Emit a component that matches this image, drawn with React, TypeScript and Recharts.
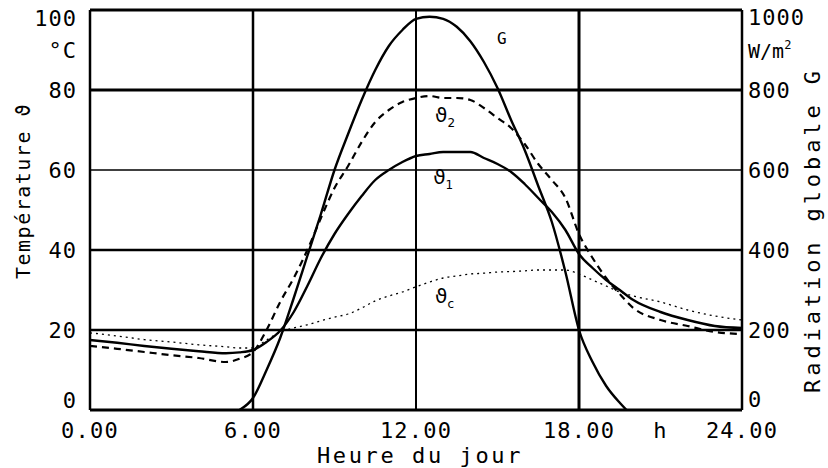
import React from 'react';
import { LineChart, Line, XAxis, YAxis, ReferenceLine, ReferenceDot } from 'recharts';

// Radiation globale G (W/m²)
const gHours = [5.5, 6, 6.5, 7, 7.5, 8, 8.5, 9, 9.5, 10, 10.5, 11, 11.5, 12, 12.5, 13, 13.5, 14, 14.5, 15, 15.5, 16, 16.5, 17, 17.5, 18, 18.5, 19, 19.5, 19.75];
const gValues = [0, 30, 100, 180, 280, 385, 490, 600, 690, 775, 850, 910, 950, 978, 983, 978, 958, 922, 870, 805, 725, 650, 560, 470, 345, 200, 120, 60, 18, 0];

// Temperatures (°C)
const tHours = [0, 1, 2, 3, 4, 5, 5.5, 6, 6.5, 7, 7.5, 8, 8.5, 9, 9.5, 10, 10.5, 11, 11.5, 12, 12.5, 13, 13.5, 14, 14.5, 15, 15.5, 16, 16.5, 17, 17.5, 18, 18.5, 19, 19.5, 20, 21, 22, 23, 24];
const theta1 = [17.5, 16.8, 16, 15.3, 14.7, 14.2, 14.4, 15, 17, 19.8, 24.5, 31, 38, 44, 49, 53.5, 57.5, 60, 62, 63.5, 64, 64.5, 64.5, 64.5, 63, 61.5, 59.5, 56.5, 53, 49.5, 45, 39, 35.5, 32.5, 30, 27.5, 24.5, 22.5, 21, 20.5];
const theta2 = [16, 15.3, 14.5, 13.7, 13, 12, 12.8, 14.5, 20, 27, 33, 40, 48, 55.5, 61, 67, 72, 75, 77, 78, 78.5, 78, 78, 77.5, 75.5, 73, 70.5, 66.5, 61.5, 57.5, 53, 44, 38, 33, 29, 25.5, 22.5, 21, 19.5, 19];
const thetaC = [19.3, 18.5, 17.6, 17, 16.3, 15.8, 15.5, 15.5, 17.5, 19.5, 20.5, 21.3, 22.3, 23.2, 24, 25.5, 27.3, 28.5, 29.5, 30.8, 32, 33, 33.5, 34, 34.2, 34.5, 34.6, 34.8, 35, 35, 35, 34, 32.5, 31, 29.5, 28.5, 27, 25, 23.5, 22.5];

// Ticks
const xTicks = [0, 6, 12, 18, 21, 24];
const xTickLabels = ['0.00', '6.00', '12.00', '18.00', 'h', '24.00'];
const leftTicks = [0, 20, 40, 60, 80, 90, 100];
const leftTickLabels = ['0', '20', '40', '60', '80', '°C', '100'];
const rightTicks = [0, 200, 400, 600, 800, 900, 1000];
const rightTickLabels = ['0', '200', '400', '600', '800', 'W/m²', '1000'];
const gridY = [0, 20, 40, 60, 80, 100];
const gridX = [0, 6, 12, 18, 24];

const gData = gHours.map((h, i) => ({ h, g: gValues[i] }));
const tData = tHours.map((h, i) => ({ h, t1: theta1[i], t2: theta2[i], tc: thetaC[i] }));

const MONO = '"DejaVu Sans Mono", monospace';
const SANS = '"DejaVu Sans", sans-serif';

const gridYWidth: Record<number, number> = { 0: 3, 20: 2.5, 40: 2.5, 60: 1.5, 80: 3, 100: 3 };
const gridXWidth: Record<number, number> = { 0: 2.5, 6: 2.5, 12: 2, 18: 3, 24: 2.5 };

const XTick = (props: any) => {
  const { x, y, payload } = props;
  const i = xTicks.indexOf(payload.value);
  return (
    <text x={x} y={y + 28} textAnchor="middle" fontFamily={MONO} fontSize={22} letterSpacing={1.2} fill="#000">
      {xTickLabels[i]}
    </text>
  );
};

const LeftTick = (props: any) => {
  const { x, y, payload } = props;
  const i = leftTicks.indexOf(payload.value);
  let dy = 8;
  if (payload.value === 100) dy = 16;
  if (payload.value === 0) dy = -2;
  return (
    <text x={x - 13} y={y + dy} textAnchor="end" fontFamily={MONO} fontSize={22} letterSpacing={1} fill="#000">
      {leftTickLabels[i]}
    </text>
  );
};

const RightTick = (props: any) => {
  const { x, y, payload } = props;
  const i = rightTicks.indexOf(payload.value);
  let dy = 8;
  if (payload.value === 1000) dy = 15;
  if (payload.value === 0) dy = -3;
  const label = rightTickLabels[i];
  if (label === 'W/m²') {
    return (
      <text x={x + 6} y={y + dy} textAnchor="start" fontFamily={MONO} fontSize={20} fill="#000">
        W/m<tspan fontSize={12} dy={-9}>2</tspan>
      </text>
    );
  }
  return (
    <text x={x + 6} y={y + dy} textAnchor="start" fontFamily={MONO} fontSize={22} letterSpacing={1} fill="#000">
      {label}
    </text>
  );
};

const SeriesLabel = (main: string, sub: string) => (props: any) => (
  <text x={props.cx} y={props.cy + 7} textAnchor="middle" fontFamily={SANS} fontSize={20} fill="#000">
    {main}
    {sub ? (
      <tspan fontSize={12} dy={5}>
        {sub}
      </tspan>
    ) : null}
  </text>
);

const GLabel = (props: any) => (
  <text x={props.cx} y={props.cy + 6} textAnchor="middle" fontFamily={MONO} fontSize={16} fill="#000">
    G
  </text>
);

export default function App() {
  return (
    <div style={{ position: 'absolute', left: 0, top: 0, background: '#fff' }}>
      <LineChart width={828} height={468} data={tData} margin={{ top: 10, right: 0, bottom: 0, left: 0 }}>
        <XAxis
          dataKey="h"
          type="number"
          domain={[0, 24]}
          ticks={xTicks}
          interval={0}
          axisLine={false}
          tickLine={false}
          tickSize={0}
          tickMargin={0}
          height={58}
          tick={XTick}
          allowDataOverflow
          label={{
            content: (p: any) => (
              <text
                x={p.viewBox.x + p.viewBox.width / 2 + 4}
                y={p.viewBox.y + 53}
                textAnchor="middle"
                fontFamily={MONO}
                fontSize={22}
                letterSpacing={2.6}
                fill="#000"
              >
                Heure du jour
              </text>
            ),
          }}
        />
        <YAxis
          yAxisId="l"
          domain={[0, 100]}
          ticks={leftTicks}
          interval={0}
          axisLine={false}
          tickLine={false}
          tickSize={0}
          tickMargin={0}
          width={90}
          tick={LeftTick}
          allowDataOverflow
          label={{
            content: () => (
              <text
                transform="translate(30,191) rotate(-90)"
                x={0}
                y={0}
                textAnchor="middle"
                fontFamily={MONO}
                fontSize={20}
                letterSpacing={1.5}
                fill="#000"
              >
                Température ϑ
              </text>
            ),
          }}
        />
        <YAxis
          yAxisId="r"
          orientation="right"
          domain={[0, 1000]}
          ticks={rightTicks}
          interval={0}
          axisLine={false}
          tickLine={false}
          tickSize={0}
          tickMargin={0}
          width={86}
          tick={RightTick}
          allowDataOverflow
          label={{
            content: () => (
              <text
                transform="translate(820,230) rotate(-90)"
                x={0}
                y={0}
                textAnchor="middle"
                fontFamily={MONO}
                fontSize={22}
                letterSpacing={3.9}
                fill="#000"
              >
                Radiation globale G
              </text>
            ),
          }}
        />
        {gridY.map((v) => (
          <ReferenceLine key={'y' + v} yAxisId="l" y={v} stroke="#000" strokeWidth={gridYWidth[v]} ifOverflow="visible" />
        ))}
        {gridX.map((v) => (
          <ReferenceLine key={'x' + v} yAxisId="l" x={v} stroke="#000" strokeWidth={gridXWidth[v]} ifOverflow="visible" />
        ))}
        <Line yAxisId="r" data={gData} dataKey="g" type="monotone" stroke="#000" strokeWidth={2.4} dot={false} isAnimationActive={false} />
        <Line yAxisId="l" dataKey="t1" type="monotone" stroke="#000" strokeWidth={2.4} dot={false} isAnimationActive={false} />
        <Line yAxisId="l" dataKey="t2" type="monotone" stroke="#000" strokeWidth={2.2} strokeDasharray="7 5" dot={false} isAnimationActive={false} />
        <Line yAxisId="l" dataKey="tc" type="monotone" stroke="#000" strokeWidth={1.3} strokeDasharray="2 4" dot={false} isAnimationActive={false} />
        <ReferenceDot yAxisId="l" x={15.16} y={93} r={0} shape={GLabel} ifOverflow="visible" />
        <ReferenceDot yAxisId="l" x={13.07} y={73.75} r={0} shape={SeriesLabel('ϑ', '2')} ifOverflow="visible" />
        <ReferenceDot yAxisId="l" x={13.0} y={58.25} r={0} shape={SeriesLabel('ϑ', '1')} ifOverflow="visible" />
        <ReferenceDot yAxisId="l" x={13.05} y={28.5} r={0} shape={SeriesLabel('ϑ', 'c')} ifOverflow="visible" />
      </LineChart>
    </div>
  );
}
